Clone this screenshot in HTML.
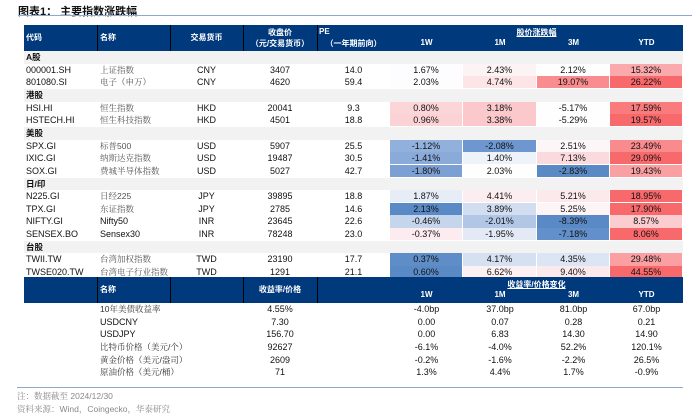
<!DOCTYPE html>
<html><head><meta charset="utf-8">
<style>
body{margin:0;width:700px;height:419px;background:#fff;position:relative;overflow:hidden;font-family:"Liberation Sans","Noto Sans CJK SC",sans-serif;}
.a{position:absolute;box-sizing:border-box;white-space:nowrap;}
.t{font-size:9px;color:#111;line-height:12.7px;}
.h{color:#fff;font-weight:bold;font-size:8px;font-family:"Liberation Sans","Noto Sans CJK SC",sans-serif;text-align:center;}
.cn{font-family:"Liberation Sans","Noto Serif CJK SC",serif;color:#555;font-size:8.5px;}
</style></head><body>
<div class="a" style="left:18px;top:3px;font-size:11px;font-weight:bold;color:#111;">图表1： 主要指数涨跌幅</div>
<div class="a" style="left:18px;top:15px;width:674px;height:1px;background:#8ea9cf;"></div>
<div id="tbl"></div>
<div class="a" style="left:17px;top:387px;width:666px;height:1px;background:#8ea9cf;"></div>
<div class="a" style="left:17px;top:390px;font-size:8.5px;color:#888;font-family:'Liberation Sans','Noto Serif CJK SC',serif;">注：数据截至 2024/12/30</div>
<div class="a" style="left:17px;top:403px;font-size:8.5px;color:#888;font-family:'Liberation Sans','Noto Serif CJK SC',serif;">资料来源：Wind，Coingecko，华泰研究</div>
<script>
const codes=["000001.SH","801080.SI","HSI.HI","HSTECH.HI","SPX.GI","IXIC.GI","SOX.GI","N225.GI","TPX.GI","NIFTY.GI","SENSEX.BO","TWII.TW","TWSE020.TW"];
const names=["上证指数","电子（申万）","恒生指数","恒生科技指数","标普500","纳斯达克指数","费城半导体指数","日经225","东证指数","Nifty50","Sensex30","台湾加权指数","台湾电子行业指数"];
const ccy=["CNY","CNY","HKD","HKD","USD","USD","USD","JPY","JPY","INR","INR","TWD","TWD"];
const close=["3407","4620","20041","4501","5907","19487","5027","39895","2785","23645","78248","23190","1291"];
const pe=["14.0","59.4","9.3","18.8","25.5","30.5","42.7","18.8","14.6","22.6","23.0","17.7","21.1"];
const w1=["1.67%","2.03%","0.80%","0.96%","-1.12%","-1.41%","-1.80%","1.87%","2.13%","-0.46%","-0.37%","0.37%","0.60%"];
const m1=["2.43%","4.74%","3.18%","3.38%","-2.08%","1.40%","2.03%","4.41%","3.89%","-2.01%","-1.95%","4.17%","6.62%"];
const m3=["2.12%","19.07%","-5.17%","-5.29%","2.51%","7.13%","-2.83%","5.21%","5.25%","-8.39%","-7.18%","4.35%","9.40%"];
const ytd=["15.32%","26.22%","17.59%","19.57%","23.49%","29.09%","19.43%","18.95%","17.90%","8.57%","8.06%","29.48%","44.55%"];
const cW1=["#fdfcfe","#fdfdfe","#fbd5d8","#fbd3d6","#92b0dc","#8aaad9","#7da0d4","#e6edf7","#5a8ac6","#c5d5ec","#fcecef","#5e8dc8","#5a8ac6"];
const cM1=["#fcf3f5","#fce4e7","#fbc8cc","#fbc8cc","#6e96cf","#eef3fa","#fefefe","#fcedf0","#d2ddf0","#b2c7e6","#e3eaf6","#d5e0f1","#fcf0f2"];
const cM3=["#fefefe","#f98c8f","#fefefe","#fefefe","#fdf6f8","#fbdadd","#5a8ac6","#fce9ec","#fdf4f6","#5a8ac6","#6390ca","#dbe5f3","#fce9ec"];
const cYT=["#faa9ac","#f8696b","#f97b7e","#f8696b","#f98a8d","#f8696b","#faa0a3","#f8696b","#f8696b","#fbcdd0","#f8696b","#faa0a3","#f8696b"];
const groups=[["A股",0],["港股",2],["美股",4],["日/印",7],["台股",11]];
const mNames=["10年美债收益率","USDCNY","USDJPY","比特币价格（美元/个）","黄金价格（美元/盎司）","原油价格（美元/桶）"];
const mVals=["4.55%","7.30","156.70","92627","2609","71"];
const mW1=["-4.0bp","0.00","0.00","-6.1%","-0.2%","1.3%"];
const mM1=["37.0bp","0.07","6.83","-4.0%","-1.6%","4.4%"];
const mM3=["81.0bp","0.28","14.30","52.2%","-2.2%","1.7%"];
const mYT=["67.0bp","0.21","14.90","120.1%","26.5%","-0.9%"];

const X=[24,97,170,243,317,390,463,537,610,683];
const RH=12.65;
const tbl=document.getElementById('tbl');
function box(x,y,w,h,txt,cls,name,style){
  const d=document.createElement('div');
  d.className='a '+(cls||'');
  
  
  d.style.left=x+'px';d.style.top=y+'px';d.style.width=w+'px';d.style.height=h+'px';
  if(style)d.style.cssText+=style;
  if(txt!==null&&txt!==undefined)d.textContent=txt;
  tbl.appendChild(d);return d;
}
// header 1
box(24,25,659,26,null,'','header-band','background:#003a7d;');
[97,170,243,317].forEach((x,i)=>box(x,25,1,26,null,'','header-separator','background:#000;'));
box(26,25,70,26,'代码','h','header-code','text-align:left;line-height:26px;');
box(100,25,70,26,'名称','h','header-name','text-align:left;line-height:26px;');
box(170,25,73,26,'交易货币','h','header-currency','line-height:26px;');
box(243,27,74,12,'收盘价','h','header-close','');
box(243,38,74,12,'（元/交易货币）','h','header-close-unit','');
box(317,27,30,12,'PE','h','header-pe','text-align:left;padding-left:2px;');
box(317,38,73,12,'（一年期前向）','h','header-pe-unit','');
box(390,27,293,12,'股价涨跌幅','h','header-price-change','text-decoration:underline;');
['1W','1M','3M','YTD'].forEach((t,i)=>box(X[5+i],38,X[6+i]-X[5+i],12,t,'h','header-'+t.toLowerCase(),''));
// body rows
let y=51;const gmap={};groups.forEach(g=>gmap[g[1]]=g[0]);
const colsV=[w1,m1,m3,ytd],colsC=[cW1,cM1,cM3,cYT];
for(let i=0;i<codes.length;i++){
  if(gmap[i]!==undefined){
    box(24,y,659,RH,gmap[i],'t','group-row','background:#f2f2f2;font-weight:bold;padding-left:2px;font-size:8.5px;');
    y+=RH;
  }
  box(26,y,71,RH,codes[i],'t','code-'+i,'');
  box(100,y,70,RH,names[i],'t'+(/[A-Za-z]/.test(names[i])?'':' cn'),'name-'+i,'');
  box(170,y,73,RH,ccy[i],'t','currency-'+i,'text-align:center;');
  box(243,y,74,RH,close[i],'t','close-'+i,'text-align:center;');
  box(317,y,73,RH,pe[i],'t','pe-'+i,'text-align:center;');
  for(let c=0;c<4;c++){
    box(X[5+c],y,X[6+c]-X[5+c]-1,RH-0.5,colsV[c][i],'t','change-cell','text-align:center;background:'+colsC[c][i]+';');
  }
  y+=RH;
}
// header 2
const y2=277;
box(24,y2,659,26,null,'','header2-band','background:#003a7d;');
[97,170,243,317].forEach(x=>box(x,y2,1,26,null,'','header2-separator','background:#000;'));
box(100,y2,70,26,'名称','h','header2-name','text-align:left;line-height:26px;');
box(243,y2,74,26,'收益率/价格','h','header2-value','line-height:26px;');
box(390,y2+2,293,12,'收益率/价格变化','h','header2-change','text-decoration:underline;');
['1W','1M','3M','YTD'].forEach((t,i)=>box(X[5+i],y2+13,X[6+i]-X[5+i],12,t,'h','header2-'+t.toLowerCase(),''));
let y3=303;
for(let i=0;i<mNames.length;i++){
  const latin=/^[A-Z]+$/.test(mNames[i]);
  box(100,y3,143,RH,mNames[i],'t'+(latin?'':' cn'),'macro-name-'+i,latin?'':'color:#333;');
  box(243,y3,74,RH,mVals[i],'t','macro-value-'+i,'text-align:center;');
  [mW1,mM1,mM3,mYT].forEach((arr,c)=>box(X[5+c],y3,X[6+c]-X[5+c],RH,arr[i],'t','macro-change','text-align:center;'));
  y3+=RH;
}
</script>
</body></html>
